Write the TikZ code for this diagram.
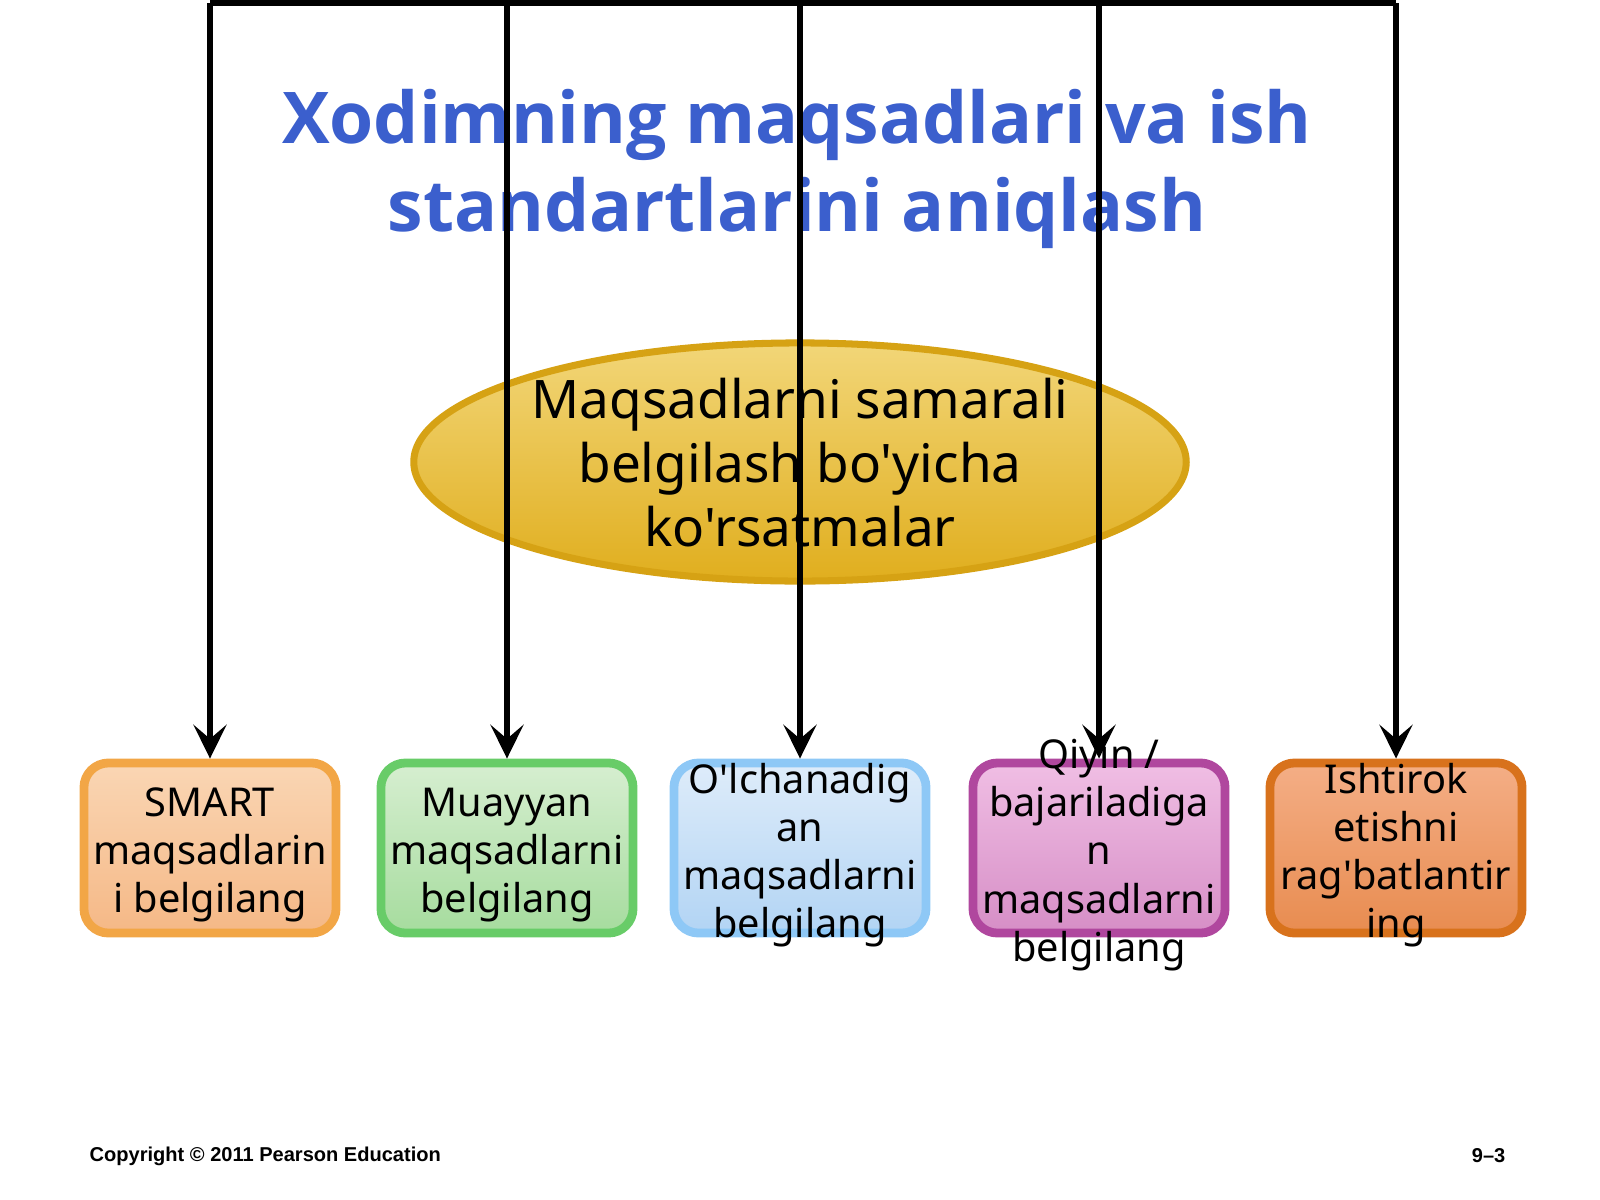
\documentclass[tikz,border=0pt]{standalone}
\usepackage{fontspec}
\newfontfamily\bodyfont{Noto Sans}
\newfontfamily\titlefont{Open Sans}
\newfontfamily\footfont{Liberation Sans}
\usetikzlibrary{shapes.geometric,arrows.meta}
\definecolor{titleblue}{RGB}{59,95,205}
\definecolor{goldline}{RGB}{214,162,20}
\definecolor{goldtop}{RGB}{242,214,120}
\definecolor{goldbot}{RGB}{224,174,30}
\definecolor{orline}{RGB}{242,166,70}
\definecolor{ortop}{RGB}{250,214,180}
\definecolor{orbot}{RGB}{245,184,134}
\definecolor{grline}{RGB}{104,204,104}
\definecolor{grtop}{RGB}{214,238,208}
\definecolor{grbot}{RGB}{166,220,158}
\definecolor{blline}{RGB}{142,200,246}
\definecolor{bltop}{RGB}{222,236,250}
\definecolor{blbot}{RGB}{178,212,244}
\definecolor{puline}{RGB}{176,71,158}
\definecolor{putop}{RGB}{240,190,228}
\definecolor{pubot}{RGB}{214,142,198}
\definecolor{dkline}{RGB}{216,114,28}
\definecolor{dktop}{RGB}{244,174,134}
\definecolor{dkbot}{RGB}{232,140,80}
\tikzset{
  goalbox/.style={draw,line width=2.5pt,rounded corners=7pt,minimum width=2.52cm,
    minimum height=1.70cm,inner sep=0pt},
  goaltext/.style={align=center,inner sep=0pt,font=\bodyfont\fontsize{11.3}{13.7}\selectfont},
  link/.style={line width=1.9pt},
  linkarrow/.style={line width=1.9pt,-{Stealth[length=9.6pt,width=9.4pt,inset=4pt]}}
}
\begin{document}
\begin{tikzpicture}[x=0.01cm,y=-0.01cm]
\useasboundingbox(0,0)rectangle(1600,1200);
\node[font=\titlefont\bfseries\fontsize{20.3}{25}\selectfont,text=titleblue,align=center](title)at(797,169)
{Xodimning maqsadlari va ish\\standartlarini aniqlash}; %title
\node[ellipse,draw=goldline,line width=2pt,top color=goldtop,bottom color=goldbot,
minimum width=7.72cm,minimum height=2.38cm](guide)at(800,462){}; %guidelines
\node[align=center,inner sep=0pt,font=\bodyfont\fontsize{15.1}{18.2}\selectfont](guidetext)at(800,463)
{Maqsadlarni samarali\\belgilash bo'yicha\\ko'rsatmalar};
%goal boxes
\node[goalbox,draw=orline,top color=ortop,bottom color=orbot](b1)at(210,848){};
\node[goalbox,draw=grline,top color=grtop,bottom color=grbot](b2)at(507,848){};
\node[goalbox,draw=blline,top color=bltop,bottom color=blbot](b3)at(800,848){};
\node[goalbox,draw=puline,top color=putop,bottom color=pubot](b4)at(1099,848){};
\node[goalbox,draw=dkline,top color=dktop,bottom color=dkbot](b5)at(1396,848){};
\node[goaltext](t1)at([yshift=-2pt]b1.center){SMART\\maqsadlarin\\i belgilang};
\node[goaltext](t2)at([yshift=-2pt]b2.center){Muayyan\\maqsadlarni\\belgilang};
\node[goaltext](t3)at([yshift=-2pt]b3.center){O'lchanadig\\an\\maqsadlarni\\belgilang};
\node[goaltext](t4)at([yshift=-2pt]b4.center){Qiyin /\\bajariladiga\\n\\maqsadlarni\\belgilang};
\node[goaltext](t5)at([yshift=-2pt]b5.center){Ishtirok\\etishni\\rag'batlantir\\ing};
%connectors from the top line
\coordinate(h1)at(210,3);
\coordinate(h2)at(507,3);
\coordinate(h3)at(800,3);
\coordinate(h4)at(1099,3);
\coordinate(h5)at(1396,3);
\draw[link](h1)--(h5);
\draw[linkarrow](h1)--(b1);
\draw[linkarrow](h2)--(b2);
\draw[linkarrow](h3)--(b3);
\draw[linkarrow](h4)--(b4);
\draw[linkarrow](h5)--(b5);
%footer
\node[font=\footfont\bfseries\fontsize{5.7}{7}\selectfont,anchor=west,inner sep=0pt](copy)at(89,1156)
{Copyright © 2011 Pearson Education};
\node[font=\footfont\bfseries\fontsize{5.7}{7}\selectfont,anchor=east,inner sep=0pt](page)at(1506,1156){9–3};
\end{tikzpicture}
\end{document}
